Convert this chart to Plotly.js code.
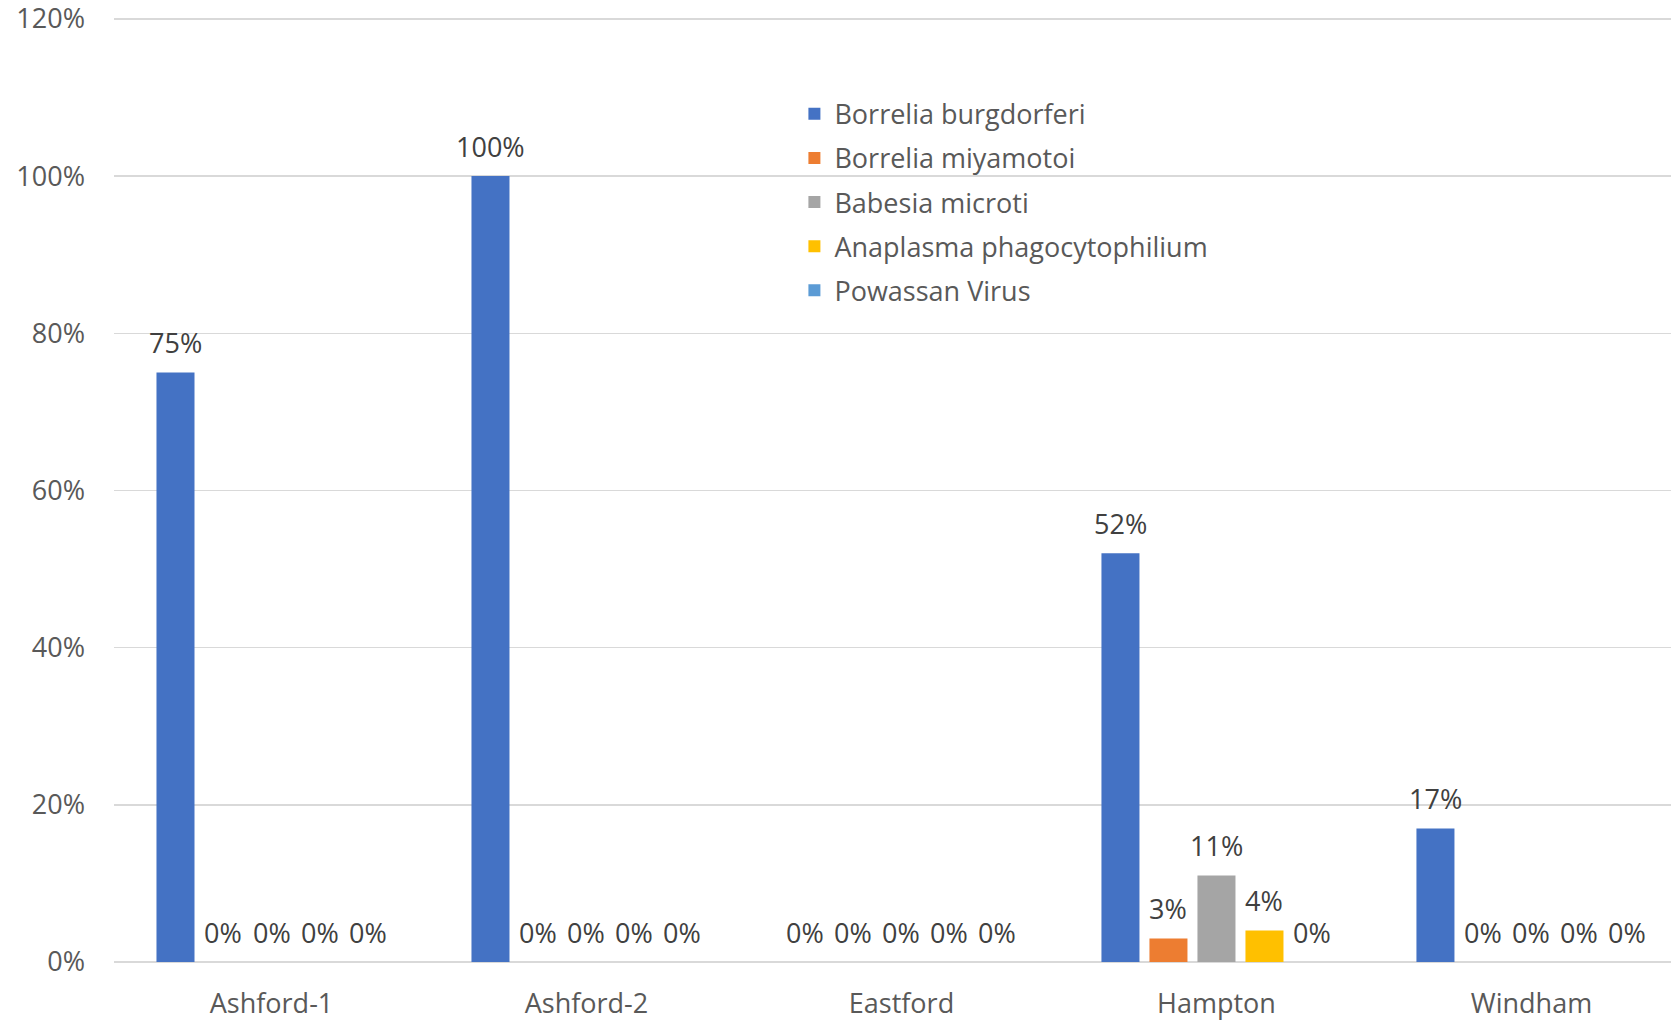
<!DOCTYPE html>
<html>
<head>
<meta charset="utf-8">
<script src="https://cdn.plot.ly/plotly-3.0.1.min.js"></script>
<style>
html,body{margin:0;padding:0;background:#fff;}
#chart{width:1671px;height:1020px;}
</style>
</head>
<body>
<div id="chart"></div>
<script>
// ---- data ----
const categories = ["Ashford-1", "Ashford-2", "Eastford", "Hampton", "Windham"];
const seriesNames = ["Borrelia burgdorferi", "Borrelia miyamotoi", "Babesia microti", "Anaplasma phagocytophilium", "Powassan Virus"];
const borreliaBurgdorferi = [0.75, 1.00, 0, 0.52, 0.17];
const borreliaMiyamotoi   = [0, 0, 0, 0.03, 0];
const babesiaMicroti      = [0, 0, 0, 0.11, 0];
const anaplasma           = [0, 0, 0, 0.04, 0];
const powassanVirus       = [0, 0, 0, 0, 0];
const yTickVals = [0, 0.2, 0.4, 0.6, 0.8, 1.0, 1.2];

// ---- styling ----
const seriesValues = [borreliaBurgdorferi, borreliaMiyamotoi, babesiaMicroti, anaplasma, powassanVirus];
const colors = ["#4472C4", "#ED7D31", "#A5A5A5", "#FFC000", "#5B9BD5"];
const FONT = "Open Sans, Noto Sans, sans-serif";
const W = 1671, H = 1020;
const margin = {l: 114, r: 0, t: 15, b: 58};
const xRange = [-0.5, 4.443];
const bargap = 0.238, bargroupgap = 0.208;

const traces = seriesValues.map((vals, i) => ({
  type: "bar",
  name: seriesNames[i],
  x: categories,
  y: vals,
  marker: {color: colors[i]},
  legendgroup: "g" + i,
  hoverinfo: "skip"
}));

// data labels placed at each bar's value via the axes
const plotW = W - margin.l - margin.r;
const catPx = plotW / (xRange[1] - xRange[0]);
const slotPx = catPx * (1 - bargap) / seriesValues.length;
const annotations = [];
seriesValues.forEach((vals, i) => {
  vals.forEach((v, j) => {
    annotations.push({
      x: categories[j], y: v, xref: "x", yref: "y",
      xshift: (i - (seriesValues.length - 1) / 2) * slotPx,
      yshift: 30,
      text: Math.round(v * 100) + "%",
      showarrow: false,
      xanchor: "center", yanchor: "middle",
      font: {family: FONT, size: 27, color: "#404040"}
    });
  });
});

const layout = {
  width: W, height: H,
  margin: margin,
  paper_bgcolor: "#ffffff",
  plot_bgcolor: "#ffffff",
  font: {family: FONT, size: 27, color: "#595959"},
  barmode: "group",
  bargap: bargap,
  bargroupgap: bargroupgap,
  showlegend: true,
  legend: {
    x: 0.437, y: 0.921, xanchor: "left", yanchor: "top",
    xref: "paper", yref: "paper",
    bgcolor: "rgba(0,0,0,0)",
    font: {family: FONT, size: 27, color: "#595959"},
    traceorder: "grouped",
    tracegroupgap: 6
  },
  xaxis: {
    type: "category",
    range: xRange,
    showgrid: false,
    zeroline: false,
    showline: false,
    ticks: "",
    ticklabelstandoff: 23,
    tickfont: {family: FONT, size: 27, color: "#595959"},
    fixedrange: true
  },
  yaxis: {
    range: [0, 1.205],
    tickvals: yTickVals,
    tickformat: ".0%",
    showgrid: true,
    gridcolor: "#d9d9d9",
    gridwidth: 1.5,
    zeroline: true,
    zerolinecolor: "#d9d9d9",
    zerolinewidth: 1.5,
    showline: false,
    ticks: "",
    ticklabelstandoff: 28,
    ticklabeloverflow: "allow",
    tickfont: {family: FONT, size: 27, color: "#595959"},
    fixedrange: true
  },
  annotations: annotations
};

Plotly.newPlot("chart", traces, layout, {staticPlot: true, displayModeBar: false});
</script>
</body>
</html>
